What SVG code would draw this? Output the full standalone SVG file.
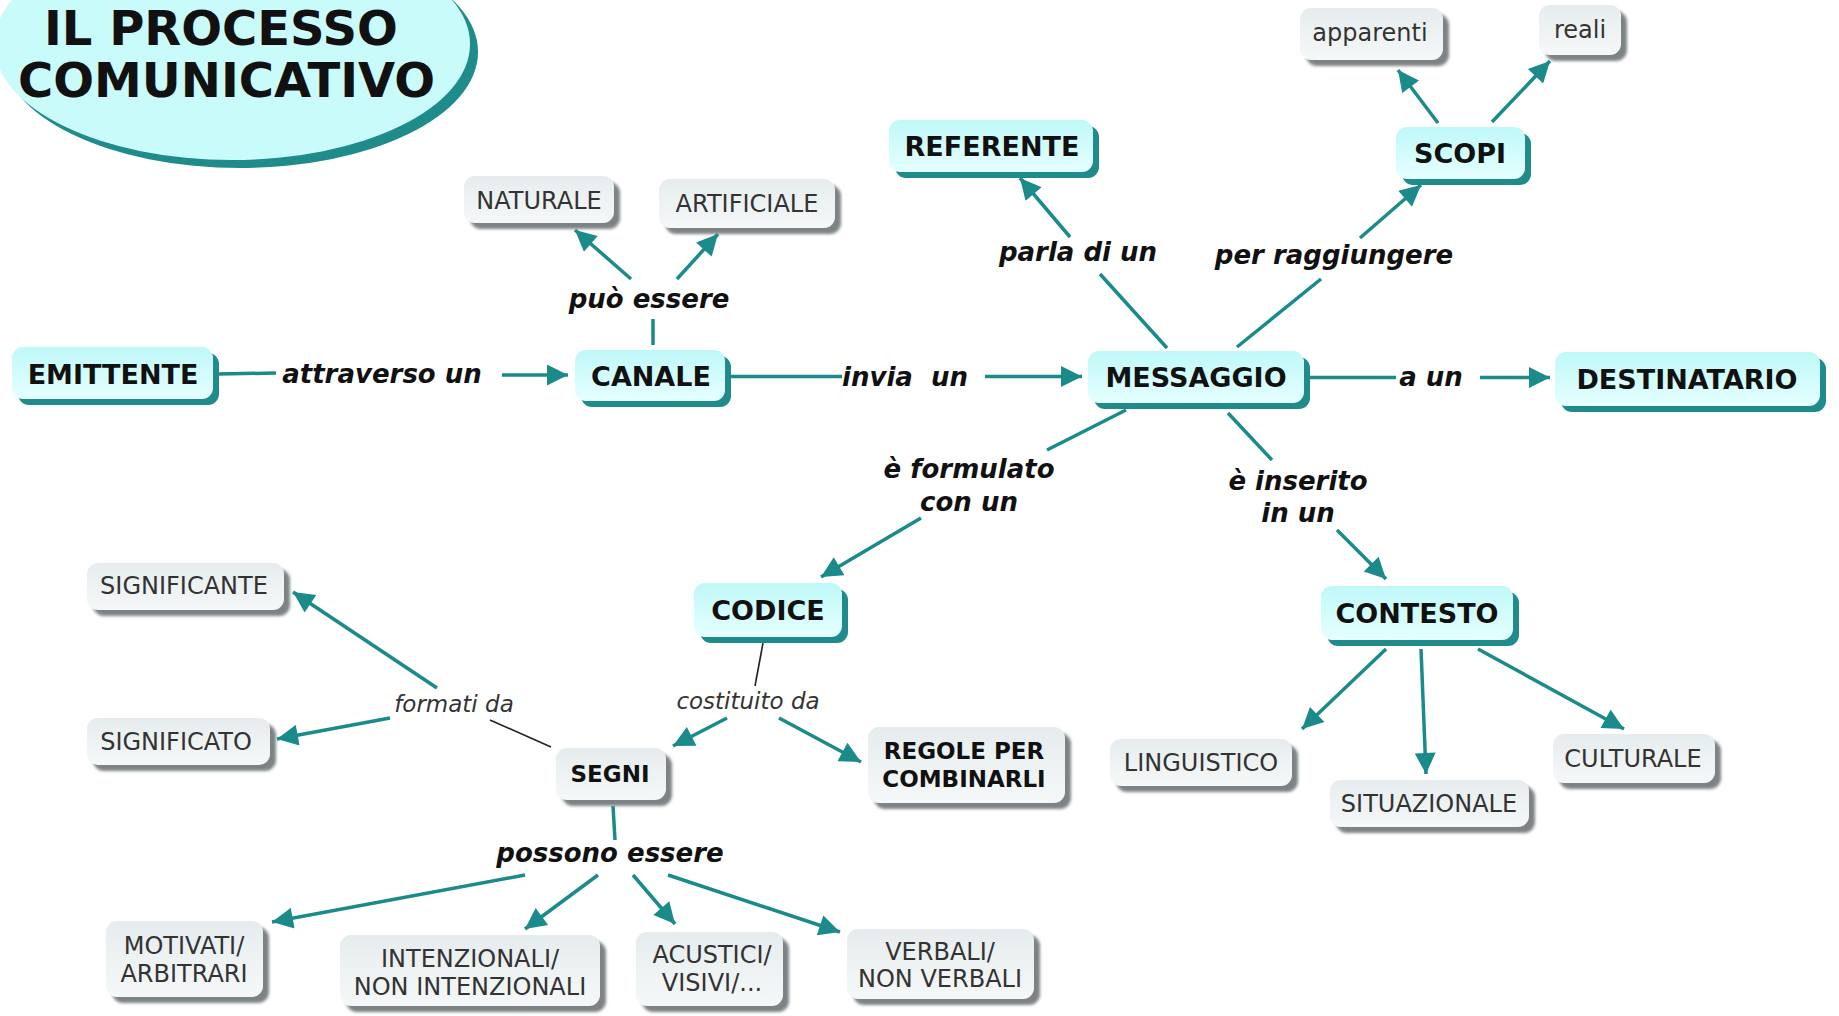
<svg xmlns="http://www.w3.org/2000/svg" width="1839" height="1016" viewBox="0 0 1839 1016">
<defs>
  <linearGradient id="gc" x1="0" y1="0" x2="0" y2="1">
    <stop offset="0" stop-color="#bff8f8"/>
    <stop offset="1" stop-color="#e6ffff"/>
  </linearGradient>
  <linearGradient id="gg" x1="0" y1="0" x2="0" y2="1">
    <stop offset="0" stop-color="#e6ecee"/>
    <stop offset="1" stop-color="#f5f8f8"/>
  </linearGradient>
  <filter id="blur" x="-10%" y="-10%" width="120%" height="130%">
    <feGaussianBlur stdDeviation="1.5"/>
  </filter>
  <marker id="ah" viewBox="0 0 10 10" refX="10" refY="5" markerWidth="23" markerHeight="21" markerUnits="userSpaceOnUse" orient="auto">
    <path d="M0,0 L10,5 L0,10 z" fill="#1b8a8a"/>
  </marker>
  <style>
    .cy .sh { fill: #1f8b8b; }
    .cy .bx { fill: url(#gc); }
    .gr .sh { fill: #7d8385; filter: url(#blur); }
    .gr .bx { fill: url(#gg); }
    .tb { font-family: "DejaVu Sans", Verdana, sans-serif; font-weight: bold; font-size: 27px; fill: #111; text-anchor: middle; }
    .tg { font-family: "DejaVu Sans", Verdana, sans-serif; font-size: 24px; fill: #333; text-anchor: middle; }
    .tgb { font-family: "DejaVu Sans", Verdana, sans-serif; font-weight: bold; font-size: 23px; fill: #111; text-anchor: middle; }
    .lb { font-family: "DejaVu Sans", Verdana, sans-serif; font-weight: bold; font-style: italic; font-size: 26px; fill: #111; text-anchor: middle; white-space: pre; }
    .li { font-family: "DejaVu Sans", Verdana, sans-serif; font-style: italic; font-size: 23px; fill: #333; text-anchor: middle; }
    .ln { stroke: #1b8a8a; stroke-width: 3.5; fill: none; }
    .ar { marker-end: url(#ah); }
    .bk { stroke: #222; stroke-width: 1.6; fill: none; }
  </style>
</defs>
<rect width="1839" height="1016" fill="#ffffff"/>

<g id="title">
  <ellipse cx="240" cy="52" rx="238" ry="116" fill="#1f8b8b"/>
  <ellipse cx="232" cy="44" rx="238" ry="116" fill="#c9fbfb"/>
  <text x="44" y="45" font-family="DejaVu Sans, Verdana, sans-serif" font-weight="bold" font-size="48" fill="#111">IL PROCESSO</text>
  <text x="18" y="97" font-family="DejaVu Sans, Verdana, sans-serif" font-weight="bold" font-size="48" fill="#111">COMUNICATIVO</text>
</g>

<g id="connectors">
  <line class="ln" x1="218" y1="374" x2="276" y2="373"/>
  <line class="ln ar" x1="502" y1="375" x2="568" y2="375"/>
  <line class="ln" x1="729" y1="376.5" x2="842" y2="376.5"/>
  <line class="ln ar" x1="985" y1="376.5" x2="1082" y2="376.5"/>
  <line class="ln" x1="1309" y1="377.5" x2="1396" y2="377.5"/>
  <line class="ln ar" x1="1480" y1="377.5" x2="1550" y2="377.5"/>
  <line class="ln" x1="653" y1="345" x2="653" y2="319"/>
  <line class="ln ar" x1="631" y1="279" x2="575" y2="230"/>
  <line class="ln ar" x1="677" y1="279" x2="718" y2="234"/>
  <line class="ln" x1="1167" y1="348" x2="1100" y2="274"/>
  <line class="ln ar" x1="1070" y1="237" x2="1020" y2="178"/>
  <line class="ln" x1="1237" y1="347" x2="1321" y2="279"/>
  <line class="ln ar" x1="1360" y1="238" x2="1421" y2="185"/>
  <line class="ln ar" x1="1438" y1="123" x2="1398" y2="70"/>
  <line class="ln ar" x1="1492" y1="122" x2="1550" y2="61"/>
  <line class="ln" x1="1126" y1="410" x2="1047" y2="450"/>
  <line class="ln ar" x1="921" y1="518" x2="821" y2="577"/>
  <line class="ln" x1="1228" y1="413" x2="1272" y2="460"/>
  <line class="ln ar" x1="1337" y1="530" x2="1386" y2="579"/>
  <line class="bk" x1="763" y1="643" x2="755" y2="686"/>
  <line class="ln ar" x1="727" y1="718" x2="673" y2="746"/>
  <line class="ln ar" x1="779" y1="718" x2="861" y2="762"/>
  <line class="bk" x1="551" y1="747" x2="490" y2="720"/>
  <line class="ln ar" x1="437" y1="688" x2="293" y2="592"/>
  <line class="ln ar" x1="390" y1="718" x2="277" y2="739"/>
  <line class="ln" x1="613" y1="806" x2="615" y2="840"/>
  <line class="ln ar" x1="525" y1="875" x2="272" y2="922"/>
  <line class="ln ar" x1="598" y1="875" x2="525" y2="929"/>
  <line class="ln ar" x1="633" y1="875" x2="675" y2="924"/>
  <line class="ln ar" x1="668" y1="875" x2="840" y2="932"/>
  <line class="ln ar" x1="1386" y1="649" x2="1302" y2="729"/>
  <line class="ln ar" x1="1421" y1="649" x2="1426" y2="774"/>
  <line class="ln ar" x1="1478" y1="649" x2="1624" y2="729"/>

  <text class="lb" x="382" y="383">attraverso un</text>
  <text class="lb" x="905" y="386">invia  un</text>
  <text class="lb" x="1431" y="386">a un</text>
  <text class="lb" x="649" y="308">può essere</text>
  <text class="lb" x="1078" y="261">parla di un</text>
  <text class="lb" x="1334" y="264">per raggiungere</text>
  <text class="lb" x="969" y="478">è formulato</text>
  <text class="lb" x="969" y="511">con un</text>
  <text class="lb" x="1298" y="490">è inserito</text>
  <text class="lb" x="1298" y="522">in un</text>
  <text class="lb" x="610" y="862">possono essere</text>
  <text class="li" x="454" y="712">formati da</text>
  <text class="li" x="748" y="709">costituito da</text>
</g>

<g id="emittente" class="cy"><rect class="sh" x="18" y="353" width="201" height="52" rx="11"/><rect class="bx" x="12" y="347" width="201" height="52" rx="11"/><text class="tb" x="113" y="384">EMITTENTE</text></g>
<g id="canale" class="cy"><rect class="sh" x="581" y="356" width="150" height="51" rx="11"/><rect class="bx" x="575" y="350" width="150" height="51" rx="11"/><text class="tb" x="651" y="386">CANALE</text></g>
<g id="messaggio" class="cy"><rect class="sh" x="1094" y="357" width="216" height="52" rx="11"/><rect class="bx" x="1088" y="351" width="216" height="52" rx="11"/><text class="tb" x="1196" y="387">MESSAGGIO</text></g>
<g id="destinatario" class="cy"><rect class="sh" x="1561" y="358" width="265" height="54" rx="11"/><rect class="bx" x="1555" y="352" width="265" height="54" rx="11"/><text class="tb" x="1687" y="389">DESTINATARIO</text></g>
<g id="referente" class="cy"><rect class="sh" x="895" y="126" width="204" height="52" rx="11"/><rect class="bx" x="889" y="120" width="204" height="52" rx="11"/><text class="tb" x="992" y="156">REFERENTE</text></g>
<g id="scopi" class="cy"><rect class="sh" x="1402" y="133" width="129" height="52" rx="11"/><rect class="bx" x="1396" y="127" width="129" height="52" rx="11"/><text class="tb" x="1460" y="163">SCOPI</text></g>
<g id="codice" class="cy"><rect class="sh" x="700" y="589" width="148" height="54" rx="11"/><rect class="bx" x="694" y="583" width="148" height="54" rx="11"/><text class="tb" x="768" y="620">CODICE</text></g>
<g id="contesto" class="cy"><rect class="sh" x="1327" y="592" width="192" height="54" rx="11"/><rect class="bx" x="1321" y="586" width="192" height="54" rx="11"/><text class="tb" x="1417" y="623">CONTESTO</text></g>

<g id="apparenti" class="gr"><rect class="sh" x="1306" y="14" width="143" height="52" rx="11"/><rect class="bx" x="1300" y="8" width="143" height="52" rx="11"/><text class="tg" x="1370" y="41">apparenti</text></g>
<g id="reali" class="gr"><rect class="sh" x="1545" y="11" width="82" height="50" rx="11"/><rect class="bx" x="1539" y="5" width="82" height="50" rx="11"/><text class="tg" x="1580" y="38">reali</text></g>
<g id="naturale" class="gr"><rect class="sh" x="470" y="182" width="150" height="47" rx="11"/><rect class="bx" x="464" y="176" width="150" height="47" rx="11"/><text class="tg" x="539" y="209">NATURALE</text></g>
<g id="artificiale" class="gr"><rect class="sh" x="665" y="185" width="176" height="49" rx="11"/><rect class="bx" x="659" y="179" width="176" height="49" rx="11"/><text class="tg" x="747" y="212">ARTIFICIALE</text></g>
<g id="significante" class="gr"><rect class="sh" x="93" y="569" width="197" height="47" rx="11"/><rect class="bx" x="87" y="563" width="197" height="47" rx="11"/><text class="tg" x="184" y="594">SIGNIFICANTE</text></g>
<g id="significato" class="gr"><rect class="sh" x="93" y="724" width="183" height="47" rx="11"/><rect class="bx" x="87" y="718" width="183" height="47" rx="11"/><text class="tg" x="176" y="750">SIGNIFICATO</text></g>
<g id="segni" class="gr"><rect class="sh" x="562" y="754" width="110" height="52" rx="11"/><rect class="bx" x="556" y="748" width="110" height="52" rx="11"/><text class="tgb" x="610" y="782">SEGNI</text></g>
<g id="regole" class="gr"><rect class="sh" x="874" y="733" width="197" height="76" rx="11"/><rect class="bx" x="868" y="727" width="197" height="76" rx="11"/><text class="tgb" x="964" y="759">REGOLE PER</text><text class="tgb" x="964" y="787">COMBINARLI</text></g>
<g id="linguistico" class="gr"><rect class="sh" x="1116" y="745" width="182" height="47" rx="11"/><rect class="bx" x="1110" y="739" width="182" height="47" rx="11"/><text class="tg" x="1201" y="771">LINGUISTICO</text></g>
<g id="situazionale" class="gr"><rect class="sh" x="1336" y="786" width="199" height="47" rx="11"/><rect class="bx" x="1330" y="780" width="199" height="47" rx="11"/><text class="tg" x="1429" y="812">SITUAZIONALE</text></g>
<g id="culturale" class="gr"><rect class="sh" x="1559" y="740" width="162" height="49" rx="11"/><rect class="bx" x="1553" y="734" width="162" height="49" rx="11"/><text class="tg" x="1633" y="767">CULTURALE</text></g>
<g id="motivati" class="gr"><rect class="sh" x="112" y="927" width="157" height="76" rx="11"/><rect class="bx" x="106" y="921" width="157" height="76" rx="11"/><text class="tg" x="184" y="954">MOTIVATI/</text><text class="tg" x="184" y="982">ARBITRARI</text></g>
<g id="intenzionali" class="gr"><rect class="sh" x="346" y="941" width="260" height="71" rx="11"/><rect class="bx" x="340" y="935" width="260" height="71" rx="11"/><text class="tg" x="470" y="967">INTENZIONALI/</text><text class="tg" x="470" y="995">NON INTENZIONALI</text></g>
<g id="acustici" class="gr"><rect class="sh" x="642" y="938" width="147" height="74" rx="11"/><rect class="bx" x="636" y="932" width="147" height="74" rx="11"/><text class="tg" x="712" y="963">ACUSTICI/</text><text class="tg" x="712" y="991">VISIVI/...</text></g>
<g id="verbali" class="gr"><rect class="sh" x="853" y="935" width="187" height="70" rx="11"/><rect class="bx" x="847" y="929" width="187" height="70" rx="11"/><text class="tg" x="940" y="960">VERBALI/</text><text class="tg" x="940" y="987">NON VERBALI</text></g>
</svg>
